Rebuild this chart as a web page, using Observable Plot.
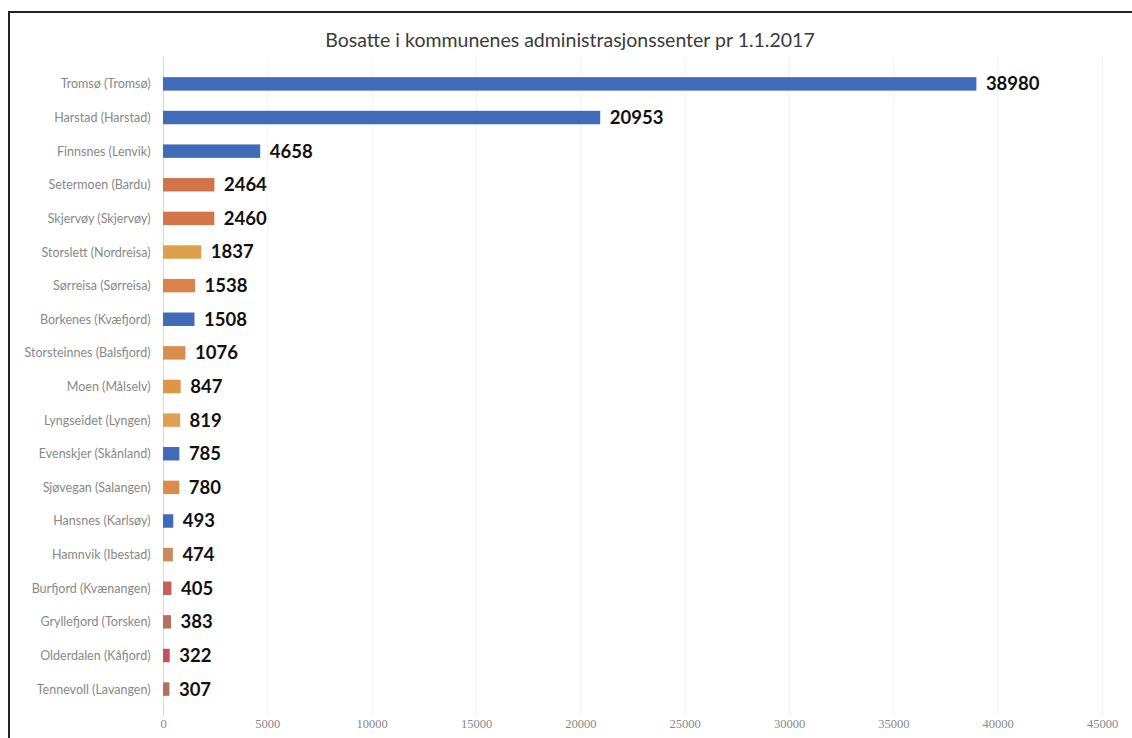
<!DOCTYPE html>
<html>
<head>
<meta charset="utf-8">
<script src="https://cdn.jsdelivr.net/npm/d3@7"></script>
<script src="https://cdn.jsdelivr.net/npm/@observablehq/plot@0.6"></script>
<style>
  html, body { margin: 0; padding: 0; background: #fff; }
  #wrap { position: relative; width: 1132px; height: 738px; overflow: hidden; background: #fff; }
  #frame { position: absolute; left: 8px; top: 11px; width: 1130px; height: 740px;
           border-top: 2px solid #222; border-left: 2px solid #222; box-sizing: border-box; }
  #title { position: absolute; top: 28px; left: 8px; width: 1124px; text-align: center;
           font-family: Lato, "Open Sans", sans-serif; font-size: 19.5px; color: #3a3a3a; }
  #chart { position: absolute; left: 0; top: 57px; }
</style>
</head>
<body>
<div id="wrap">
  <div id="frame"></div>
  <div id="title">Bosatte i kommunenes administrasjonssenter pr 1.1.2017</div>
  <div id="chart"></div>
</div>
<script>
const places = [
  "Tromsø (Tromsø)", "Harstad (Harstad)", "Finnsnes (Lenvik)", "Setermoen (Bardu)",
  "Skjervøy (Skjervøy)", "Storslett (Nordreisa)", "Sørreisa (Sørreisa)", "Borkenes (Kvæfjord)",
  "Storsteinnes (Balsfjord)", "Moen (Målselv)", "Lyngseidet (Lyngen)", "Evenskjer (Skånland)",
  "Sjøvegan (Salangen)", "Hansnes (Karlsøy)", "Hamnvik (Ibestad)", "Burfjord (Kvænangen)",
  "Gryllefjord (Torsken)", "Olderdalen (Kåfjord)", "Tennevoll (Lavangen)"
];
const residents = [38980, 20953, 4658, 2464, 2460, 1837, 1538, 1508, 1076, 847, 819, 785, 780, 493, 474, 405, 383, 322, 307];
const xTicks = [0, 5000, 10000, 15000, 20000, 25000, 30000, 35000, 40000, 45000];
const barColors = [
  "#3F6BB8", "#3F6BB8", "#3F6BB8", "#D2744A", "#D3764A", "#DDA04C", "#D9824C", "#3F6BB8",
  "#D98E4E", "#E0944A", "#DFA052", "#3F6BB8", "#D98C4E", "#3F6BB8", "#CC8A5C", "#C6605A",
  "#B8705E", "#C8505E", "#B0705E"
];

const data = places.map((p, i) => ({ place: p, value: residents[i], color: barColors[i] }));

const chart = Plot.plot({
  width: 1132,
  height: 681,
  marginLeft: 163,
  marginRight: 30,
  marginTop: 0,
  marginBottom: 22,
  style: { background: "transparent", fontFamily: "Lato, 'Open Sans', sans-serif" },
  x: { domain: [0, 45000], ticks: xTicks, tickFormat: d => String(d), label: null },
  y: { domain: places, padding: 0.6, round: false, label: null },
  marks: [
    Plot.gridX(xTicks.slice(1), { stroke: "#f2f2f2", strokeOpacity: 1 }),
    Plot.ruleX([0], { stroke: "#d8d8d8" }),
    Plot.barX(data, { x: "value", y: "place", fill: "color" }),
    Plot.text(data, {
      x: "value", y: "place", text: d => String(d.value),
      textAnchor: "start", dx: 9, fontSize: 18.5, fontWeight: "bold", fill: "#111"
    }),
    Plot.axisY({ tickSize: 0, tickPadding: 13, fontSize: 12.5, color: "#888" }),
    Plot.axisX({ ticks: xTicks, tickFormat: d => String(d), tickSize: 0, tickPadding: 3,
                 fontSize: 12.5, color: "#888", fontFamily: "'Liberation Serif', serif" })
  ]
});
document.getElementById("chart").appendChild(chart);
</script>
</body>
</html>
